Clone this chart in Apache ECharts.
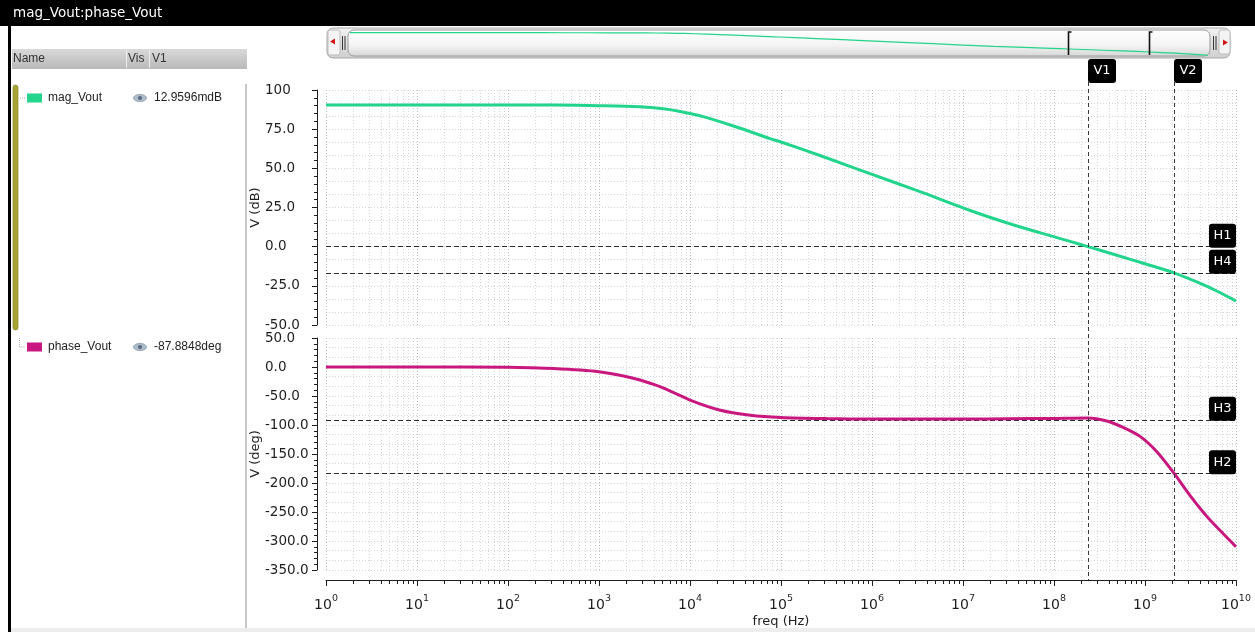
<!DOCTYPE html>
<html>
<head>
<meta charset="utf-8">
<title>mag_Vout:phase_Vout</title>
<script src="https://cdn.jsdelivr.net/npm/echarts@6.0.0/dist/echarts.min.js"></script>
<style>
html,body{margin:0;padding:0;background:#ffffff;overflow:hidden;}
#chart{width:1255px;height:632px;}
</style>
</head>
<body>
<div id="chart"></div>
<script>
// ---------- content ----------
const windowTitle = 'mag_Vout:phase_Vout';
const legendColumns = ['Name', 'Vis', 'V1'];
const traceNames = ['mag_Vout', 'phase_Vout'];
const traceReadouts = ['12.9596mdB', '-87.8848deg'];
const traceColors = ['#22d48c', '#c8177f'];
const xAxisName = 'freq (Hz)';
const magAxisName = 'V (dB)';
const phaseAxisName = 'V (deg)';

// magnitude trace (Hz, dB)
const magFreq = [1, 10, 100, 316, 1000, 2800, 5100, 7800, 1.4e4, 3e4, 7.6e4, 1e5, 3.2e5, 9.5e5, 3.2e6, 1.2e7, 3.2e7, 7.1e7, 1.5e8, 2.36e8, 5e8, 1e9, 2.08e9, 4e9, 6.3e9, 1e10];
const magDb = [90.5, 90.5, 90.5, 90.4, 90.0, 89.3, 88.0, 86.3, 83.0, 77.0, 69.0, 66.8, 56.6, 46.6, 35.6, 23.1, 14.8, 8.8, 3.4, 0.0, -5.6, -10.9, -16.7, -23.3, -28.6, -34.7];

// phase trace (Hz, deg)
const phaseFreq = [1, 10, 100, 316, 1000, 2200, 4000, 6000, 1e4, 2.1e4, 4.6e4, 1e5, 3.2e5, 1e6, 1e7, 3.2e7, 1e8, 2.36e8, 3.8e8, 5.75e8, 8.9e8, 1.35e9, 2.08e9, 3.1e9, 4.8e9, 7.2e9, 1e10];
const phaseDeg = [0, 0, -0.3, -2.5, -8, -18, -30, -41, -57, -74, -83, -87, -89, -89.8, -89.8, -89.3, -88.6, -87.9, -93, -104, -120, -146, -183, -221, -258, -287, -310];

// axis ranges / tick steps
const freqMin = 1, freqMax = 1e10;
const magMin = -50, magMax = 100, magStep = 25;
const phaseMin = -350, phaseMax = 50, phaseStep = 50;

// markers
const hMarkNames = ['H1', 'H4', 'H3', 'H2'];
const hMarkValues = [0, -16.7, -91, -183];
const hMarkPanel = [0, 0, 1, 1];
const vCursorNames = ['V1', 'V2'];
const vCursorFreq = [2.36e8, 2.08e9];

// ---------- chart ----------
const FONT = 'DejaVu Sans';
const AX = '#1e1e1e';
const gridMajor = {show: true, lineStyle: {color: '#bcbcbc', type: [1, 2], width: 1}};
const gridMinor = {show: true, lineStyle: {color: '#d6d6d6', type: [1, 2], width: 1}};

const chart = echarts.init(document.getElementById('chart'), null, {renderer: 'canvas'});

function yLabel(v) { return v === 100 ? '100' : v.toFixed(1); }

const hLinesFor = (panel) => hMarkValues
  .map((v, i) => ({v, i}))
  .filter(o => hMarkPanel[o.i] === panel)
  .map(o => ({yAxis: o.v, name: hMarkNames[o.i]}));

const markLineBase = {
  silent: true, symbol: ['none', 'none'], label: {show: false},
  lineStyle: {color: '#2a2a2a', type: [5, 3], width: 1},
  emphasis: {disabled: true}
};

const option = {
  animation: false,
  backgroundColor: '#ffffff',
  grid: [
    {left: 326, top: 90, width: 910, height: 235, containLabel: false, outerBoundsMode: 'none'},
    {left: 326, top: 338, width: 910, height: 232, containLabel: false, outerBoundsMode: 'none'},
    {left: 350, top: 31, width: 858, height: 27, containLabel: false, outerBoundsMode: 'none'}
  ],
  xAxis: [
    {gridIndex: 0, type: 'log', logBase: 10, min: freqMin, max: freqMax, interval: 1,
     axisLine: {show: false}, axisTick: {show: false}, axisLabel: {show: false},
     splitLine: gridMajor, minorTick: {show: false, splitNumber: 9}, minorSplitLine: gridMinor},
    {gridIndex: 1, type: 'log', logBase: 10, min: freqMin, max: freqMax, interval: 1, offset: 10,
     axisLine: {show: true, onZero: false, lineStyle: {color: AX, width: 1}},
     axisTick: {show: true, length: 6, lineStyle: {color: AX}},
     minorTick: {show: true, splitNumber: 9, length: 4, lineStyle: {color: AX}},
     splitLine: gridMajor, minorSplitLine: gridMinor,
     axisLabel: {
       margin: 16,
       formatter: v => '{b|10}{e|' + Math.round(Math.log10(v)) + '}',
       rich: {
         b: {fontFamily: FONT, fontSize: 14, color: AX, lineHeight: 16, verticalAlign: 'bottom'},
         e: {fontFamily: FONT, fontSize: 9.5, color: AX, lineHeight: 11, verticalAlign: 'bottom', padding: [0, 0, 8, 0]}
       }
     },
     name: xAxisName, nameLocation: 'middle', nameGap: 35, nameMoveOverlap: false,
     nameTextStyle: {fontFamily: FONT, fontSize: 13, color: AX}},
    {gridIndex: 2, type: 'log', logBase: 10, min: freqMin, max: freqMax, show: false}
  ],
  yAxis: [
    {gridIndex: 0, type: 'value', min: magMin, max: magMax, interval: magStep, offset: 9,
     axisLine: {show: true, onZero: false, lineStyle: {color: AX}},
     axisTick: {show: true, length: 5, lineStyle: {color: AX}},
     minorTick: {show: true, splitNumber: 5, length: 3, lineStyle: {color: AX}},
     splitLine: {show: false},
     axisLabel: {align: 'left', margin: 52, formatter: yLabel, fontFamily: FONT, fontSize: 13.5, color: AX},
     name: magAxisName, nameLocation: 'middle', nameGap: 55, nameMoveOverlap: false,
     nameTextStyle: {fontFamily: FONT, fontSize: 13, color: AX}},
    {gridIndex: 0, type: 'value', min: magMin, max: magMax, interval: magStep / 3,
     axisLine: {show: false}, axisTick: {show: false}, axisLabel: {show: false}, splitLine: gridMinor},
    {gridIndex: 1, type: 'value', min: phaseMin, max: phaseMax, interval: phaseStep, offset: 9,
     axisLine: {show: true, onZero: false, lineStyle: {color: AX}},
     axisTick: {show: true, length: 5, lineStyle: {color: AX}},
     minorTick: {show: true, splitNumber: 5, length: 3, lineStyle: {color: AX}},
     splitLine: {show: false},
     axisLabel: {align: 'left', margin: 52, formatter: yLabel, fontFamily: FONT, fontSize: 13.5, color: AX},
     name: phaseAxisName, nameLocation: 'middle', nameGap: 55, nameMoveOverlap: false,
     nameTextStyle: {fontFamily: FONT, fontSize: 13, color: AX}},
    {gridIndex: 1, type: 'value', min: phaseMin, max: phaseMax, interval: phaseStep / 3,
     axisLine: {show: false}, axisTick: {show: false}, axisLabel: {show: false}, splitLine: gridMinor},
    {gridIndex: 2, type: 'value', min: magMin, max: magMax, show: false}
  ],
  series: [
    {type: 'line', name: traceNames[0], xAxisIndex: 0, yAxisIndex: 0,
     data: magFreq.map((f, i) => [f, magDb[i]]), showSymbol: false, smooth: 0.3,
     lineStyle: {color: traceColors[0], width: 3}, z: 5,
     markLine: Object.assign({}, markLineBase, {data: hLinesFor(0)})},
    {type: 'line', name: traceNames[1], xAxisIndex: 1, yAxisIndex: 2,
     data: phaseFreq.map((f, i) => [f, phaseDeg[i]]), showSymbol: false, smooth: 0.3,
     lineStyle: {color: traceColors[1], width: 3}, z: 5,
     markLine: Object.assign({}, markLineBase, {data: hLinesFor(1)})},
    {type: 'line', name: 'overview', xAxisIndex: 2, yAxisIndex: 4,
     data: magFreq.map((f, i) => [f, magDb[i]]), showSymbol: false, smooth: 0.3,
     lineStyle: {color: traceColors[0], width: 1.2}, z: 20, silent: true}
  ]
};
chart.setOption(option);

// ---------- overlays (window chrome, legend panel, cursors) ----------
const g = [];
const Z = 50;
// title bar
g.push({type: 'rect', shape: {x: 0, y: 0, width: 1255, height: 26}, style: {fill: '#000'}, z: Z});
g.push({type: 'text', x: 13, y: 13, style: {text: windowTitle, fill: '#fff', font: '13.5px "DejaVu Sans"', verticalAlign: 'middle'}, z: Z + 1});
// left border
g.push({type: 'rect', shape: {x: 8, y: 26, width: 3, height: 606}, style: {fill: '#000'}, z: Z});
// bottom status strip
g.push({type: 'rect', shape: {x: 11, y: 628, width: 1244, height: 4}, style: {fill: '#ededed'}, z: Z});
// legend header
g.push({type: 'rect', shape: {x: 12, y: 49, width: 235, height: 20},
  style: {fill: new echarts.graphic.LinearGradient(0, 0, 0, 1, [{offset: 0, color: '#d9d9d9'}, {offset: 1, color: '#b9b9b9'}])}, z: Z});
g.push({type: 'line', shape: {x1: 126.5, y1: 50, x2: 126.5, y2: 68}, style: {stroke: '#efefef', lineWidth: 1}, z: Z + 1});
g.push({type: 'line', shape: {x1: 149.5, y1: 50, x2: 149.5, y2: 68}, style: {stroke: '#efefef', lineWidth: 1}, z: Z + 1});
[13, 128, 152].forEach((x, i) => g.push({type: 'text', x, y: 59,
  style: {text: legendColumns[i], fill: '#333', font: '12px "Liberation Sans"', verticalAlign: 'middle'}, z: Z + 1}));
// panel separator
g.push({type: 'rect', shape: {x: 245, y: 84, width: 2, height: 544}, style: {fill: '#c8c8c8'}, z: Z});
// group bar
g.push({type: 'rect', shape: {x: 13, y: 85, width: 5, height: 245, r: 2.5}, style: {fill: '#a9a535', stroke: '#7c7920', lineWidth: 0.6}, z: Z});
// trace rows
const rowY = [98, 347];
rowY.forEach((y, i) => {
  if (i === 0) {
    g.push({type: 'line', shape: {x1: 20, y1: y, x2: 25, y2: y}, style: {stroke: '#aaa', lineDash: [1, 1]}, z: Z});
  } else {
    g.push({type: 'polyline', shape: {points: [[19.5, y - 9], [19.5, y], [25, y]]}, style: {stroke: '#aaa', fill: null, lineDash: [1, 1]}, z: Z});
  }
  g.push({type: 'rect', shape: {x: 27, y: y - 4.5, width: 15, height: 9}, style: {fill: traceColors[i]}, z: Z});
  g.push({type: 'text', x: 48, y, style: {text: traceNames[i], fill: '#222', font: '12px "Liberation Sans"', verticalAlign: 'middle'}, z: Z});
  g.push({type: 'ellipse', shape: {cx: 140, cy: y, rx: 6.5, ry: 3.6}, style: {fill: '#aebbc9', stroke: '#8796a8', lineWidth: 0.8}, z: Z});
  g.push({type: 'circle', shape: {cx: 140, cy: y, r: 2}, style: {fill: '#566780'}, z: Z + 1});
  g.push({type: 'text', x: 154, y, style: {text: traceReadouts[i], fill: '#222', font: '12px "Liberation Sans"', verticalAlign: 'middle'}, z: Z});
});

// scroll / overview bar
g.push({type: 'rect', shape: {x: 327, y: 28, width: 903, height: 30, r: 6},
  style: {fill: new echarts.graphic.LinearGradient(0, 0, 0, 1, [{offset: 0, color: '#f2f2f2'}, {offset: 1, color: '#cfcfcf'}]), stroke: '#a8a8a8', lineWidth: 1}, z: 10});
g.push({type: 'rect', shape: {x: 328, y: 30, width: 12, height: 25, r: 2}, style: {fill: '#f4f4f4', stroke: '#bdbdbd'}, z: 11});
g.push({type: 'polygon', shape: {points: [[330, 41.5], [335, 38.5], [335, 44.5]]}, style: {fill: '#d01818'}, z: 12});
g.push({type: 'line', shape: {x1: 342.5, y1: 36, x2: 342.5, y2: 50}, style: {stroke: '#333', lineWidth: 1}, z: 12});
g.push({type: 'line', shape: {x1: 345, y1: 36, x2: 345, y2: 50}, style: {stroke: '#333', lineWidth: 1}, z: 12});
g.push({type: 'rect', shape: {x: 348, y: 30, width: 862, height: 26, r: 6},
  style: {fill: new echarts.graphic.LinearGradient(0, 0, 0, 1, [{offset: 0, color: '#ffffff'}, {offset: 0.6, color: '#f3f3f3'}, {offset: 1, color: '#d6d6d6'}]), stroke: '#9a9a9a', lineWidth: 1}, z: 11});
g.push({type: 'line', shape: {x1: 1213.5, y1: 36, x2: 1213.5, y2: 50}, style: {stroke: '#333', lineWidth: 1}, z: 12});
g.push({type: 'line', shape: {x1: 1216, y1: 36, x2: 1216, y2: 50}, style: {stroke: '#333', lineWidth: 1}, z: 12});
g.push({type: 'rect', shape: {x: 1219, y: 30, width: 11, height: 24, r: 2}, style: {fill: '#f4f4f4', stroke: '#bdbdbd'}, z: 11});
g.push({type: 'polygon', shape: {points: [[1228, 42.5], [1223, 39.5], [1223, 45.5]]}, style: {fill: '#d01818'}, z: 12});

// cursors
const yTop = chart.convertToPixel({yAxisIndex: 0}, magMax);
const yBottom = chart.convertToPixel({yAxisIndex: 2}, phaseMin);
const xRight = chart.convertToPixel({xAxisIndex: 0}, freqMax);
vCursorFreq.forEach((f, i) => {
  const x = Math.round(chart.convertToPixel({xAxisIndex: 0}, f)) + 0.5;
  g.push({type: 'line', shape: {x1: x, y1: yTop - 8, x2: x, y2: yBottom + 10}, style: {stroke: '#3a3a3a', lineWidth: 1, lineDash: [4, 3]}, z: 30});
  g.push({type: 'rect', shape: {x: x - 0.5, y: yTop - 31, width: 28, height: 24, r: 3}, style: {fill: '#000'}, z: 31});
  g.push({type: 'text', x: x + 13.5, y: yTop - 19, style: {text: vCursorNames[i], fill: '#fff', font: '13px "DejaVu Sans"', align: 'center', verticalAlign: 'middle'}, z: 32});
  const xo = Math.round(chart.convertToPixel({xAxisIndex: 2}, f)) + 0.5;
  g.push({type: 'polyline', shape: {points: [[xo + 3, 32], [xo, 32], [xo, 55]]}, style: {stroke: '#111', fill: null, lineWidth: 1.6}, z: 25});
});
hMarkValues.forEach((v, i) => {
  const y = chart.convertToPixel({yAxisIndex: hMarkPanel[i] === 0 ? 0 : 2}, v);
  g.push({type: 'rect', shape: {x: xRight - 27, y: y - 23, width: 27, height: 24, r: 3}, style: {fill: '#000'}, z: 31});
  g.push({type: 'text', x: xRight - 13.5, y: y - 11, style: {text: hMarkNames[i], fill: '#fff', font: '13px "DejaVu Sans"', align: 'center', verticalAlign: 'middle'}, z: 32});
});

chart.setOption({graphic: {elements: g}});
</script>
</body>
</html>
